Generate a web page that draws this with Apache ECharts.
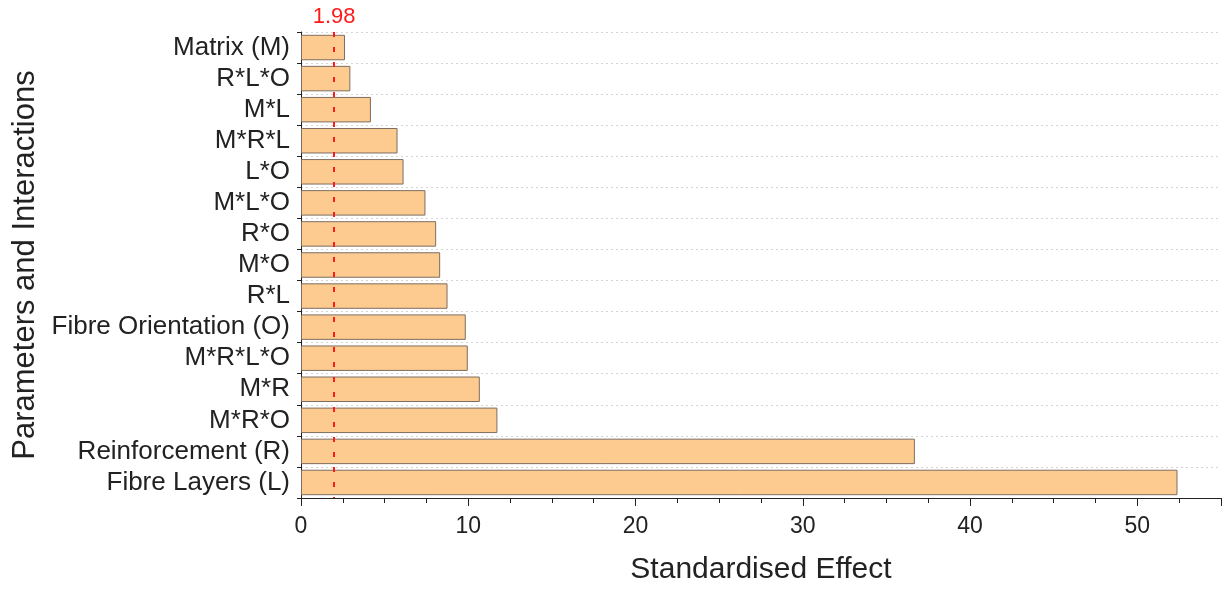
<!DOCTYPE html>
<html>
<head>
<meta charset="utf-8">
<script src="https://cdn.jsdelivr.net/npm/echarts@6/dist/echarts.min.js"></script>
<style>
  html, body { margin: 0; padding: 0; background: #fff; }
  #chart { width: 1224px; height: 590px; }
</style>
</head>
<body>
<div id="chart"></div>
<script>
// Terms listed top to bottom
const terms = [
  'Matrix (M)', 'R*L*O', 'M*L', 'M*R*L', 'L*O', 'M*L*O', 'R*O', 'M*O',
  'R*L', 'Fibre Orientation (O)', 'M*R*L*O', 'M*R', 'M*R*O',
  'Reinforcement (R)', 'Fibre Layers (L)'
];
// Standardised effect of each term
const effects = [
  2.63, 2.95, 4.18, 5.77, 6.13, 7.44, 8.08, 8.32,
  8.76, 9.85, 9.97, 10.69, 11.74,
  36.7, 52.4
];
// Critical value of the significance threshold
const criticalValue = 1.98;
const xTicks = [0, 10, 20, 30, 40, 50];

const font = '"Liberation Sans", Arial, sans-serif';
const chart = echarts.init(document.getElementById('chart'));

chart.setOption({
  animation: false,
  grid: { left: 301, right: 2, top: 32, bottom: 90 },
  xAxis: {
    type: 'value',
    min: 0,
    max: 55,
    interval: 10,
    name: 'Standardised Effect',
    nameLocation: 'middle',
    nameGap: 57,
    nameTextStyle: { fontFamily: font, fontSize: 30, color: '#222' },
    axisLine: { show: true, lineStyle: { color: '#222', width: 1 } },
    axisTick: { show: true, length: 8, lineStyle: { color: '#222' } },
    minorTick: { show: true, splitNumber: 4, length: 5, lineStyle: { color: '#222' } },
    axisLabel: {
      fontFamily: font, fontSize: 23, color: '#222', margin: 17,
      formatter: v => (xTicks.includes(v) ? String(v) : '')
    },
    splitLine: { show: false }
  },
  yAxis: {
    type: 'category',
    data: terms,
    inverse: true,
    name: 'Parameters and Interactions',
    nameLocation: 'middle',
    nameGap: 257,
    nameTextStyle: { fontFamily: font, fontSize: 31, color: '#222' },
    axisLine: { show: true, lineStyle: { color: '#222', width: 1 } },
    axisTick: { show: true, inside: false, length: 4, interval: 0, lineStyle: { color: '#222' } },
    axisLabel: { fontFamily: font, fontSize: 26, color: '#222', margin: 11, interval: 0 },
    splitLine: { show: true, interval: 0, lineStyle: { color: '#d4d4d4', type: [2, 3], width: 1 } }
  },
  series: [{
    type: 'bar',
    data: effects,
    barCategoryGap: '18%',
    itemStyle: { color: '#FDCB90', borderColor: '#7d6e60', borderWidth: 1 },
    markLine: {
      silent: true,
      symbol: 'none',
      lineStyle: { color: '#ff1a1a', type: [5, 10], width: 2 },
      label: {
        show: true, position: 'start', distance: 4,
        color: '#ff1a1a', fontFamily: font, fontSize: 22,
        formatter: String(criticalValue)
      },
      data: [{ xAxis: criticalValue }]
    }
  }]
});
</script>
</body>
</html>
